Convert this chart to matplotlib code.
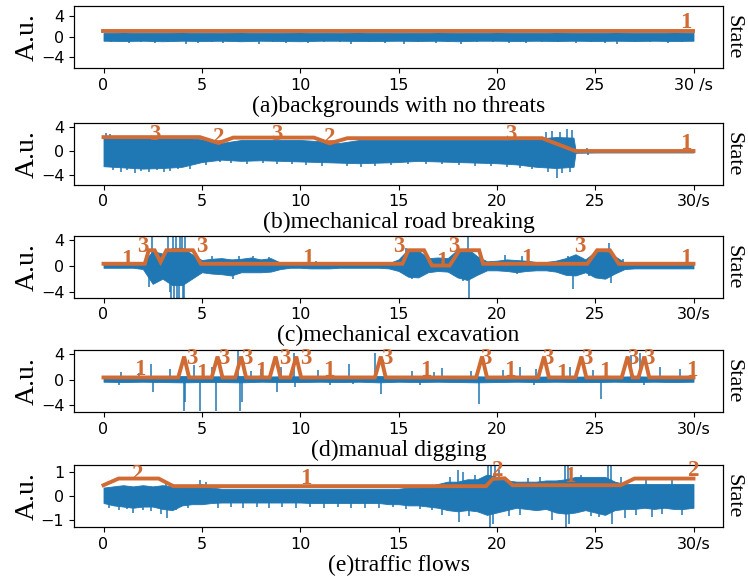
import numpy as np
import matplotlib
matplotlib.use("Agg")
import matplotlib.pyplot as plt

BLUE = "#1f77b4"
ORANGE = "#d06b34"
SERIF = "Liberation Serif"

captions = ["(a)backgrounds with no threats", "(b)mechanical road breaking",
            "(c)mechanical excavation", "(d)manual digging", "(e)traffic flows"]
xtick_vals = [0, 5, 10, 15, 20, 25, 30]
xtick_labels_a = ["0", "5", "10", "15", "20", "25", "30 /s"]
xtick_labels = ["0", "5", "10", "15", "20", "25", "30/s"]

# ---------------- panel (a) ----------------
a_t = list(range(31))
a_up = [0.7, 0.8, 0.7, 0.75, 0.8, 0.7, 0.75, 0.8, 0.7, 0.75, 0.8, 0.7, 0.75, 0.8, 0.7, 0.75,
        0.7, 0.8, 0.75, 0.7, 0.8, 0.75, 0.7, 0.8, 0.75, 0.7, 0.8, 0.75, 0.7, 0.8, 0.75]
a_lo = [-0.8, -0.85, -0.8, -0.9, -0.8, -0.85, -0.8, -0.9, -0.8, -0.85, -0.9, -0.8, -0.8, -0.85,
        -0.85, -0.8, -0.85, -0.8, -0.9, -0.8, -0.8, -0.85, -0.8, -0.85, -0.8, -0.85, -0.8,
        -0.85, -0.8, -0.85, -0.8]
a_spk_t = [0.4, 1.3, 1.9, 2.6, 3.3, 4.2, 4.8, 5.5, 6.1, 6.9, 7.9, 8.6, 9.3, 10.4, 11.2, 12.0,
           12.6, 13.5, 14.3, 15.3, 16.0, 16.9, 17.5, 18.2, 19.0, 19.8, 20.6, 21.5, 22.3, 23.1,
           24.0, 24.8, 25.5, 26.1, 27.0, 27.8, 28.7, 29.4]
a_spk_v = [-1.1, -1.3, -1.05, -1.2, -1.1, -1.4, -1.15, -1.05, -1.2, -1.1, -1.4, -1.05, -1.2,
           -1.25, -1.1, -1.05, -1.35, -1.1, -1.2, -1.4, -1.05, -1.15, -1.1, -1.45, -1.1, -1.05,
           -1.2, -1.3, -1.1, -1.05, -1.2, -1.1, -1.15, -1.35, -1.1, -1.05, -1.2, -1.1]
a_state_t = [0, 30]
a_state_y = [1.1, 1.1]
a_lab_t = [29.6]
a_lab_y = [2.7]
a_lab_s = ["1"]

# ---------------- panel (b) ----------------
b_t = [0, 1, 2, 3, 4, 5, 6, 7, 8, 9, 10, 11, 12, 13, 14, 15, 16, 17, 18, 19, 20, 21, 22, 23,
       23.9, 24.0, 25, 26, 27, 28, 29, 30]
b_up = [2.3, 2.3, 2.3, 2.3, 2.3, 2.0, 1.4, 1.9, 1.9, 1.9, 1.9, 1.7, 1.4, 1.9, 1.9, 1.9, 1.9,
        1.9, 1.9, 1.9, 1.9, 2.0, 2.1, 2.4, 2.3, 0.25, 0.2, 0.2, 0.2, 0.2, 0.2, 0.2]
b_lo = [-2.5, -2.7, -2.9, -2.8, -2.6, -1.8, -1.4, -1.6, -1.5, -1.6, -1.7, -1.8, -1.9, -2.0,
        -1.9, -1.8, -1.6, -1.7, -1.8, -1.9, -2.0, -2.2, -2.6, -2.8, -2.6, -0.25, -0.2, -0.2,
        -0.2, -0.2, -0.2, -0.2]
b_spk_t = [0.15, 0.35, 0.5, 0.9, 1.2, 1.6, 1.9, 2.3, 2.7, 3.1, 3.4, 3.8, 4.4, 5.2, 5.9, 6.5,
           7.3, 8.1, 8.8, 9.6, 10.3, 11.1, 12.4, 13.1, 13.8, 14.6, 15.5, 16.4, 17.2, 18.1,
           18.9, 19.7, 20.5, 21.2, 21.8, 22.5, 22.6, 22.8, 23.05, 23.2, 23.3, 23.55, 23.7,
           23.8, 24.6, 24.65]
b_spk_v = [3.0, 2.9, -3.1, -3.5, -3.2, -3.6, -3.3, -3.5, -3.2, -3.4, -3.3, -3.0, -2.9, -2.3,
           -1.8, -2.0, -2.1, -2.0, -2.2, -2.1, -2.3, -2.4, -2.5, -2.6, -2.4, -2.3, -2.2, -2.1,
           -2.2, -2.3, -2.4, -2.5, -2.6, -2.8, -3.0, 3.2, -3.4, 3.4, -4.4, 3.3, -3.6, 3.8,
           -3.5, 3.5, 0.6, -0.6]
b_state_t = [0, 4.9, 5.85, 6.6, 10.7, 11.5, 12.4, 22.3, 24.0, 30]
b_state_y = [2.38, 2.38, 1.39, 2.3, 2.3, 1.33, 2.2, 2.2, 0.05, 0.05]
b_lab_t = [2.6, 5.85, 8.8, 11.5, 20.7, 29.6]
b_lab_y = [2.8, 2.4, 2.8, 2.4, 2.8, 1.3]
b_lab_s = ["3", "2", "3", "2", "3", "1"]

# ---------------- panel (c) ----------------
c_t = [i * 0.5 for i in range(61)]
c_up = [0.4, 0.4, 0.4, 0.4, 0.5, 2.3, 1.9, 2.8, 2.8, 1.8, 0.9, 1.1, 1.2, 1.0, 1.1, 1.3, 1.0,
        1.2, 0.5, 0.3, 0.3, 0.5, 0.5, 0.5, 0.3, 0.3, 0.3, 0.3, 0.3, 0.4, 1.0, 2.6, 2.4, 1.2,
        1.3, 1.2, 2.5, 2.7, 1.5, 0.7, 0.8, 1.0, 0.9, 0.8, 0.6, 0.6, 0.8, 1.2, 1.8, 1.0, 2.2,
        2.4, 1.5, 0.5, 0.5, 0.5, 0.4, 0.5, 0.4, 0.4, 0.4]
c_lo = [-0.3, -0.3, -0.3, -0.3, -0.5, -2.8, -2.0, -3.0, -3.0, -2.0, -1.0, -1.2, -1.3, -1.5,
        -1.0, -1.0, -1.0, -0.9, -0.5, -0.3, -0.3, -0.4, -0.4, -0.4, -0.3, -0.3, -0.3, -0.3,
        -0.3, -0.4, -0.8, -1.7, -1.8, -1.0, -0.8, -0.9, -1.8, -2.2, -1.4, -0.7, -0.7, -0.8,
        -1.0, -0.8, -0.7, -0.7, -0.9, -1.4, -1.5, -1.0, -1.8, -2.0, -1.2, -0.5, -0.4, -0.4,
        -0.4, -0.4, -0.4, -0.4, -0.4]
c_spk_t = [2.3, 2.45, 2.6, 3.3, 3.4, 3.45, 3.55, 3.6, 3.7, 3.75, 3.85, 3.9, 4.0, 4.05, 4.1,
           4.15, 4.3, 5.5, 6.6, 6.9, 7.6, 8.4, 10.8, 11.8, 15.4, 15.7, 18.3, 18.55, 18.6, 20.4,
           21.0, 21.3, 23.6, 23.85, 24.7, 25.7, 25.8, 26.4]
c_spk_v = [-3.3, 4.8, -2.5, 4.8, -4.0, -4.95, 4.8, -4.95, 4.8, -4.95, -4.95, 4.8, 4.8, -4.95,
           -4.95, 4.8, 2.5, 1.6, -2.0, 1.6, 1.5, 1.4, 0.7, 0.6, 2.8, -2.0, -2.3, 4.8, -4.95,
           1.7, -1.3, 1.6, 1.6, -3.6, -1.6, 3.5, -2.6, 1.0]
c_state_t = [0, 2.1, 2.3, 2.6, 2.9, 3.2, 4.55, 4.95, 15.2, 15.5, 16.3, 16.7, 17.6, 18.1, 19.1,
             19.3, 24.6, 25.1, 25.75, 26.2, 30]
c_state_y = [0.32, 0.32, 2.42, 2.42, 0.6, 2.42, 2.42, 0.32, 0.32, 2.42, 2.42, 0.05, 0.05,
             2.42, 2.42, 0.32, 0.32, 2.42, 2.42, 0.32, 0.32]
c_lab_t = [1.2, 2.0, 5.0, 10.4, 15.0, 17.2, 17.8, 21.5, 24.2, 29.6]
c_lab_y = [1.0, 2.95, 2.95, 1.1, 2.95, 0.7, 2.95, 1.1, 2.95, 1.1]
c_lab_s = ["1", "3", "3", "1", "3", "1", "3", "1", "3", "1"]

# ---------------- panel (d) ----------------
d_t = list(range(31))
d_up = [0.5, 0.45, 0.5, 0.45, 0.55, 0.5, 0.5, 0.55, 0.45, 0.5, 0.5, 0.45, 0.5, 0.45, 0.55, 0.45,
        0.5, 0.45, 0.5, 0.5, 0.45, 0.5, 0.45, 0.5, 0.45, 0.5, 0.45, 0.5, 0.45, 0.5, 0.45]
d_lo = [-0.35, -0.4, -0.35, -0.4, -0.45, -0.4, -0.4, -0.45, -0.35, -0.4, -0.4, -0.35, -0.4,
        -0.35, -0.45, -0.35, -0.4, -0.35, -0.4, -0.45, -0.4, -0.35, -0.4, -0.35, -0.4, -0.4,
        -0.35, -0.4, -0.35, -0.4, -0.35]
d_spk_t = [0.8, 0.9, 1.8, 2.4, 2.5, 3.4, 4.1, 4.15, 4.6, 4.9, 5.5, 5.7, 6.86, 6.95, 7.05, 7.5,
           8.0, 8.8, 9.0, 9.7, 9.75, 10.9, 11.5, 12.5, 12.7, 13.8, 14.1, 15.7, 16.1, 16.8,
           17.2, 18.7, 19.1, 20.3, 21.2, 21.9, 22.0, 23.7, 24.9, 25.3, 26.8, 27.3, 27.5,
           28.3, 29.3]
d_spk_v = [-0.9, 1.2, 1.0, 2.5, -1.9, 1.7, -4.9, -3.5, 2.3, -4.9, 2.0, -4.9, 4.6, -4.9, -3.5,
           1.3, 1.7, -1.9, 2.0, 4.1, -1.2, 1.5, -0.8, 2.5, -0.7, 4.1, -2.2, 1.4, -0.9, 1.2,
           1.8, 1.3, -3.9, 1.5, 2.0, -0.9, 1.7, 2.0, 1.5, -3.0, 3.8, 4.2, -0.9, 2.0, 1.7]
d_state_t = [0, 3.8, 4.1, 4.35, 5.5, 5.8, 6.05, 6.7, 7.0, 7.25, 8.45, 8.75, 9.0, 9.5, 9.8,
             10.05, 13.8, 14.1, 14.35, 18.95, 19.25, 19.5, 22.1, 22.4, 22.65, 24.0, 24.3,
             24.55, 26.35, 26.65, 26.9, 27.2, 27.5, 27.75, 30]
d_state_y = [0.32, 0.32, 3.6, 0.32, 0.32, 3.6, 0.32, 0.32, 3.6, 0.32, 0.32, 3.6, 0.32, 0.32,
             3.6, 0.32, 0.32, 3.6, 0.32, 0.32, 3.6, 0.32, 0.32, 3.6, 0.32, 0.32, 3.6, 0.32,
             0.32, 3.6, 0.32, 0.32, 3.6, 0.32, 0.32]
d_lab_t = [1.85, 4.5, 5.0, 6.1, 7.3, 8.0, 9.2, 10.3, 11.45, 14.4, 16.4, 19.45, 20.65, 22.6,
           23.3, 24.55, 25.5, 26.9, 27.75, 29.9]
d_lab_y = [1.5, 3.3, 0.95, 3.3, 3.3, 1.3, 3.3, 3.3, 1.4, 3.3, 1.4, 3.3, 1.4, 3.3, 1.0, 3.3,
           1.3, 3.3, 3.3, 1.4]
d_lab_s = ["1", "3", "1", "3", "3", "1", "3", "3", "1", "3", "1", "3", "1", "3", "1", "3",
           "1", "3", "3", "1"]

# ---------------- panel (e) ----------------
e_t = [i * 0.5 for i in range(61)]
e_up = [0.35, 0.4, 0.45, 0.4, 0.45, 0.4, 0.45, 0.4, 0.35, 0.45, 0.5, 0.35, 0.3, 0.3, 0.3, 0.3,
        0.3, 0.3, 0.3, 0.3, 0.3, 0.3, 0.3, 0.3, 0.3, 0.3, 0.3, 0.3, 0.3, 0.3, 0.3, 0.35, 0.35,
        0.4, 0.5, 0.6, 0.6, 0.7, 0.7, 0.9, 0.8, 0.65, 0.6, 0.6, 0.6, 0.65, 0.65, 0.7, 0.8,
        0.8, 0.8, 0.8, 0.6, 0.5, 0.5, 0.5, 0.5, 0.5, 0.5, 0.5, 0.5]
e_lo = [-0.3, -0.4, -0.45, -0.5, -0.45, -0.45, -0.55, -0.6, -0.4, -0.35, -0.35, -0.3, -0.28,
        -0.28, -0.28, -0.28, -0.28, -0.28, -0.28, -0.28, -0.28, -0.3, -0.3, -0.3, -0.3, -0.3,
        -0.3, -0.3, -0.3, -0.35, -0.35, -0.4, -0.4, -0.45, -0.5, -0.6, -0.65, -0.6, -0.65,
        -0.8, -0.7, -0.6, -0.5, -0.55, -0.6, -0.55, -0.7, -0.75, -0.7, -0.6, -0.7, -0.8,
        -0.6, -0.55, -0.55, -0.5, -0.55, -0.5, -0.55, -0.55, -0.5]
e_spk_t = [0.3, 0.8, 1.2, 1.5, 2.0, 2.4, 2.9, 3.2, 3.25, 3.7, 4.3, 4.9, 5.2, 5.8, 6.5, 7.1,
           7.8, 8.4, 9.1, 9.8, 10.5, 11.2, 11.9, 12.6, 13.3, 14.0, 14.7, 15.4, 16.1, 16.7,
           17.2, 17.6, 18.0, 18.1, 18.3, 18.6, 18.9, 19.55, 19.65, 19.7, 19.8, 19.9, 20.1,
           20.6, 21.2, 21.6, 22.2, 22.8, 23.45, 23.5, 23.6, 23.65, 24.3, 24.8, 25.2, 25.65,
           25.8, 25.85, 26.3, 26.5, 27.1, 27.6, 27.9, 28.4, 28.9, 29.4]
e_spk_v = [-0.5, -0.6, -0.55, -0.7, -0.6, -0.65, -0.75, 0.6, -0.95, -0.6, -0.5, 0.65, 0.6,
           -0.5, -0.45, -0.5, -0.45, -0.5, -0.45, -0.5, -0.45, -0.5, -0.45, -0.5, -0.5, -0.5,
           -0.45, -0.55, -0.55, -0.6, -0.8, 0.8, 1.1, -1.1, 1.0, -0.85, 0.9, 1.3, -1.3, 1.3,
           -1.2, 1.3, 1.1, -0.85, -0.8, 0.75, 0.8, -1.0, 1.3, -1.3, 1.3, -1.2, 0.9, -0.85,
           -0.9, 1.3, 1.3, -1.2, 0.8, -0.95, -0.8, 0.8, -0.9, -0.75, 0.8, -0.8]
e_state_t = [0, 0.77, 2.8, 3.55, 19.45, 19.8, 20.4, 20.8, 26.3, 27.0, 30]
e_state_y = [0.45, 0.73, 0.73, 0.41, 0.41, 0.72, 0.74, 0.45, 0.45, 0.73, 0.73]
e_lab_t = [1.75, 10.3, 20.05, 23.7, 30.0]
e_lab_y = [0.92, 0.73, 1.06, 0.83, 1.06]
e_lab_s = ["2", "1", "2", "1", "2"]

panels = [
    (a_t, a_up, a_lo, a_spk_t, a_spk_v, a_state_t, a_state_y, a_lab_t, a_lab_y, a_lab_s,
     (-6.1, 5.95), [-4, 0, 4], xtick_labels_a),
    (b_t, b_up, b_lo, b_spk_t, b_spk_v, b_state_t, b_state_y, b_lab_t, b_lab_y, b_lab_s,
     (-5.6, 4.8), [-4, 0, 4], xtick_labels),
    (c_t, c_up, c_lo, c_spk_t, c_spk_v, c_state_t, c_state_y, c_lab_t, c_lab_y, c_lab_s,
     (-4.95, 4.68), [-4, 0, 4], xtick_labels),
    (d_t, d_up, d_lo, d_spk_t, d_spk_v, d_state_t, d_state_y, d_lab_t, d_lab_y, d_lab_s,
     (-5.1, 4.63), [-4, 0, 4], xtick_labels),
    (e_t, e_up, e_lo, e_spk_t, e_spk_v, e_state_t, e_state_y, e_lab_t, e_lab_y, e_lab_s,
     (-1.31, 1.3), [-1, 0, 1], xtick_labels),
]

W, H = 748, 581
fig = plt.figure(figsize=(W / 100, H / 100), dpi=100)
tops_px = [6, 122.7, 235.7, 350, 465]
ax_h_px = 62
left_px, right_px = 74, 723

for i, (t, up, lo, st, sv, gt, gy, lt, ly, ls, ylim, yt, xtl) in enumerate(panels):
    top = tops_px[i]
    ax = fig.add_axes([left_px / W, 1 - (top + ax_h_px) / H, (right_px - left_px) / W, ax_h_px / H])
    ax.fill_between(t, lo, up, color=BLUE, linewidth=0.6, edgecolor=BLUE)
    ax.vlines(st, 0, sv, color=BLUE, linewidth=1.1)
    ax.set_xlim(-1.5, 31.5)
    ax.set_ylim(*ylim)
    ax.set_yticks(yt)
    ax.set_xticks(xtick_vals)
    ax.set_xticklabels(xtl)
    ax.tick_params(labelsize=11.5, length=3.5)
    ax.set_ylabel("A.u.", family=SERIF, fontsize=20, labelpad=1)
    ax.set_xlabel(captions[i], family=SERIF, fontsize=17, labelpad=2)
    ax2 = ax.twinx()
    ax2.set_ylim(*ylim)
    ax2.set_yticks([])
    ax2.plot(gt, gy, color=ORANGE, linewidth=2.8, solid_joinstyle="miter")
    for x, y, s in zip(lt, ly, ls):
        ax2.text(x, y, s, color=ORANGE, family=SERIF, fontsize=16.5, fontweight="bold",
                 ha="center", va="center")
    ax2.set_ylabel("State", family=SERIF, fontsize=16, rotation=270, labelpad=14)

fig.savefig("out.png", dpi=100)
